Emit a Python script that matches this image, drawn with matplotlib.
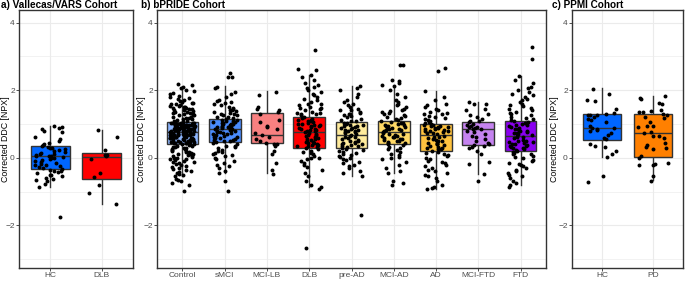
import numpy as np
import matplotlib
matplotlib.use('Agg')
import matplotlib.pyplot as plt

plt.rcParams['font.family'] = ['Liberation Sans', 'DejaVu Sans']

# ---- panel a) Vallecas/VARS ----
a_groups = ['HC', 'DLB']
a_colors = ['#0066FF', '#FF0000']
a_med = [0.05, 0.03]
a_q1 = [-0.34, -0.62]
a_q3 = [0.35, 0.15]
a_lo = [-0.86, -1.38]
a_hi = [0.93, 0.82]
a_hc = [0.93, 0.9, 0.88, 0.86, 0.8, 0.75, 0.62, 0.55, 0.5, 0.45, 0.4, 0.38, 0.35, 0.33,
        0.3, 0.28, 0.25, 0.22, 0.2, 0.18, 0.15, 0.12, 0.1, 0.08, 0.06, 0.05, 0.04, 0.02,
        0.0, -0.02, -0.05, -0.08, -0.1, -0.12, -0.15, -0.18, -0.2, -0.22, -0.25, -0.28,
        -0.3, -0.33, -0.35, -0.38, -0.4, -0.42, -0.45, -0.5, -0.52, -0.55, -0.6, -0.62,
        -0.65, -0.7, -0.78, -0.85, -1.75]
a_dlb = [0.82, 0.62, 0.22, 0.08, 0.05, 0.08, -0.05, -0.45, -0.58, -0.82, -1.03, -1.38]

# ---- panel b) bPRIDE ----
b_groups = ['Control', 'sMCI', 'MCI-LB', 'DLB', 'pre-AD', 'MCI-AD', 'AD', 'MCI-FTD', 'FTD']
b_colors = ['#8DB6FF', '#4A8CFF', '#F88080', '#FF0000', '#FFEB9C', '#FFD966', '#FFC33F',
            '#C583F0', '#8A00F0']
b_med = [0.75, 0.84, 0.68, 0.77, 0.68, 0.75, 0.68, 0.84, 0.63]
b_q1 = [0.41, 0.46, 0.43, 0.30, 0.29, 0.40, 0.20, 0.37, 0.20]
b_q3 = [1.05, 1.15, 1.32, 1.20, 1.06, 1.10, 0.99, 1.06, 1.10]
b_lo = [-0.55, -0.46, -0.46, -0.86, -0.54, -0.46, -0.93, -0.48, -0.81]
b_hi = [2.10, 2.12, 1.98, 2.46, 2.12, 2.12, 1.98, 1.65, 2.42]

control = [1.07, 1.1, 1.12, 1.15, 1.18, 1.2, 1.22, 1.25, 1.28, 1.3, 1.32, 1.35, 1.38, 1.4,
           1.42, 1.45, 1.48, 1.5, 1.52, 1.55, 1.58, 1.6, 1.63, 1.66, 1.7, 1.73, 1.76, 1.8,
           1.84, 1.88, 1.92, 1.96, 2.0, 2.05, 2.1, 2.15, 2.17, 1.5, 1.35, 1.25, 1.14, 1.44,
           1.62, 1.09, 1.27, 1.53, 1.19, 1.31, 1.47, 1.68,
           0.76, 0.77, 0.78, 0.79, 0.8, 0.81, 0.82, 0.83, 0.84, 0.85, 0.86, 0.87, 0.88, 0.89,
           0.9, 0.91, 0.92, 0.93, 0.94, 0.95, 0.96, 0.97, 0.98, 0.99, 1.0, 1.01, 1.02, 1.03,
           1.04, 1.05, 0.78, 0.82, 0.86, 0.9, 0.94, 0.98, 1.02, 0.8, 0.88, 0.96, 0.79, 0.91,
           0.99, 0.84, 1.03, 0.93, 0.87, 0.76, 0.97, 1.01,
           0.41, 0.42, 0.43, 0.44, 0.45, 0.46, 0.47, 0.48, 0.49, 0.5, 0.51, 0.52, 0.53, 0.54,
           0.55, 0.56, 0.57, 0.58, 0.59, 0.6, 0.61, 0.62, 0.63, 0.64, 0.65, 0.66, 0.67, 0.68,
           0.69, 0.7, 0.71, 0.72, 0.73, 0.74, 0.44, 0.52, 0.6, 0.68, 0.47, 0.57, 0.64, 0.71,
           0.5, 0.55, 0.62, 0.42, 0.66, 0.58, 0.49, 0.73,
           0.38, 0.35, 0.32, 0.3, 0.28, 0.25, 0.22, 0.2, 0.18, 0.15, 0.12, 0.1, 0.08, 0.05,
           0.02, 0.0, -0.03, -0.05, -0.08, -0.1, -0.13, -0.15, -0.18, -0.2, -0.23, -0.26,
           -0.3, -0.33, -0.36, -0.4, -0.43, -0.47, -0.5, -0.55, -0.62, -0.65, -0.7, -0.75,
           -0.8, -0.98, 0.36, 0.27, 0.16, 0.06, -0.12, 0.33, 0.21, 0.11, -0.02, -0.45]
smci = [1.17, 1.2, 1.22, 1.25, 1.28, 1.3, 1.33, 1.36, 1.4, 1.42, 1.45, 1.5, 1.55, 1.6, 1.62,
        1.65, 1.68, 1.72, 1.8, 1.88, 1.95, 2.05, 2.1, 2.4, 2.38, 2.5, 1.26, 1.38, 1.47,
        0.85, 0.87, 0.9, 0.92, 0.94, 0.96, 0.98, 1.0, 1.02, 1.04, 1.06, 1.08, 1.1, 1.12,
        1.14, 0.88, 0.95, 1.01, 1.07, 0.91, 0.86, 0.99, 1.11,
        0.47, 0.5, 0.52, 0.55, 0.58, 0.6, 0.62, 0.65, 0.67, 0.7, 0.72, 0.74, 0.76, 0.78,
        0.8, 0.82, 0.53, 0.63, 0.69, 0.75, 0.57, 0.81, 0.49,
        0.44, 0.4, 0.36, 0.32, 0.28, 0.24, 0.2, 0.15, 0.1, 0.05, 0.0, -0.05, -0.1, -0.15,
        -0.2, -0.25, -0.3, -0.38, -0.45, -0.68, -0.98, 0.34, 0.18, 0.07]
mcilb = [1.95, 1.85, 1.5, 1.45, 1.4, 1.35, 1.3, 1.12, 1.05, 0.95, 0.9, 0.85, 0.72, 0.68,
         0.62, 0.55, 0.5, 0.45, 0.42, 0.4, 0.35, 0.2, 0.1, -0.15, -0.35, -0.48]
dlb = [1.22, 1.25, 1.28, 1.3, 1.33, 1.36, 1.4, 1.43, 1.46, 1.5, 1.55, 1.6, 1.65, 1.7, 1.75,
       1.8, 1.85, 1.9, 1.95, 2.0, 2.05, 2.1, 2.15, 2.2, 2.3, 2.38, 2.45, 2.6, 2.62, 3.19,
       1.32, 1.48, 1.58,
       0.78, 0.8, 0.83, 0.86, 0.89, 0.92, 0.95, 0.98, 1.01, 1.04, 1.07, 1.1, 1.13, 1.16,
       1.19, 0.85, 0.93, 1.0, 1.08, 0.82, 0.97, 1.12,
       0.31, 0.34, 0.37, 0.4, 0.43, 0.46, 0.5, 0.53, 0.56, 0.6, 0.63, 0.66, 0.7, 0.73,
       0.76, 0.38, 0.48, 0.58, 0.68, 0.45, 0.55, 0.35,
       0.28, 0.25, 0.2, 0.15, 0.1, 0.05, 0.0, -0.05, -0.1, -0.15, -0.2, -0.28, -0.35,
       -0.45, -0.55, -0.7, -0.8, -0.86, -0.92, -2.68, 0.18, -0.02]
preAD = [1.08, 1.1, 1.13, 1.16, 1.2, 1.23, 1.26, 1.3, 1.33, 1.36, 1.4, 1.45, 1.5, 1.55,
         1.6, 1.65, 1.7, 1.8, 1.9, 2.0, 2.05, 2.12, 1.28, 1.42,
         0.7, 0.72, 0.75, 0.78, 0.8, 0.83, 0.86, 0.89, 0.92, 0.95, 0.98, 1.01, 1.04, 0.76,
         0.88, 0.97, 0.81, 0.93, 1.03,
         0.3, 0.33, 0.36, 0.39, 0.42, 0.45, 0.48, 0.51, 0.54, 0.57, 0.6, 0.63, 0.66, 0.4,
         0.5, 0.6, 0.35, 0.55, 0.44,
         0.27, 0.24, 0.2, 0.16, 0.12, 0.08, 0.04, 0.0, -0.04, -0.08, -0.12, -0.16, -0.2,
         -0.25, -0.3, -0.38, -0.45, -0.54, -1.7, 0.14, 0.02]
mciAD = [1.12, 1.15, 1.18, 1.2, 1.23, 1.26, 1.3, 1.33, 1.36, 1.4, 1.45, 1.5, 1.55, 1.6,
         1.65, 1.7, 1.8, 1.9, 2.0, 2.12, 2.15, 2.2, 2.28, 2.3, 2.73, 2.75, 1.38,
         0.77, 0.8, 0.83, 0.86, 0.89, 0.92, 0.95, 0.98, 1.01, 1.04, 1.07, 1.09, 0.82, 0.9,
         0.97, 1.03, 0.85, 0.94,
         0.41, 0.44, 0.47, 0.5, 0.53, 0.56, 0.59, 0.62, 0.65, 0.68, 0.71, 0.74, 0.45, 0.55,
         0.63, 0.7, 0.5, 0.6,
         0.37, 0.33, 0.28, 0.22, 0.18, 0.12, 0.08, 0.03, 0.0, -0.05, -0.12, -0.2, -0.3,
         -0.38, -0.45, -0.7, -0.75, -0.82, 0.25]
ad = [1.0, 1.03, 1.06, 1.1, 1.13, 1.16, 1.2, 1.24, 1.28, 1.32, 1.36, 1.4, 1.45, 1.5, 1.55,
      1.6, 1.7, 1.8, 1.98, 2.56, 2.64, 1.18, 1.3,
      0.7, 0.72, 0.75, 0.78, 0.8, 0.83, 0.86, 0.88, 0.9, 0.93, 0.96, 0.98, 0.74, 0.84,
      0.92, 0.79, 0.87, 0.95,
      0.21, 0.25, 0.29, 0.33, 0.37, 0.41, 0.45, 0.49, 0.53, 0.57, 0.61, 0.65, 0.3, 0.4,
      0.5, 0.6, 0.35, 0.55, 0.45, 0.27,
      0.18, 0.14, 0.1, 0.05, 0.0, -0.05, -0.1, -0.15, -0.2, -0.25, -0.3, -0.35, -0.4,
      -0.45, -0.5, -0.55, -0.6, -0.7, -0.8, -0.85, -0.93, -0.88, 0.08, -0.12]
mciFTD = [1.65, 1.6, 1.58, 1.45, 1.42, 1.3, 1.25, 1.2, 1.15, 1.1, 1.08, 1.05, 1.0, 0.98,
          0.95, 0.92, 0.9, 0.88, 0.85, 0.84, 0.8, 0.75, 0.7, 0.65, 0.6, 0.55, 0.5, 0.45,
          0.4, 0.37, 0.35, 0.32, 0.28, 0.2, 0.1, -0.12, -0.18, -0.48, -0.68]
ftd = [1.12, 1.15, 1.18, 1.22, 1.25, 1.28, 1.32, 1.36, 1.4, 1.44, 1.48, 1.52, 1.56, 1.6,
       1.65, 1.7, 1.75, 1.8, 1.85, 1.9, 1.95, 2.0, 2.05, 2.1, 2.2, 2.3, 2.42, 2.92, 3.27,
       0.65, 0.68, 0.71, 0.74, 0.77, 0.8, 0.83, 0.86, 0.89, 0.92, 0.95, 0.98, 1.01, 1.04,
       1.07, 1.09, 0.72, 0.85, 0.96, 0.78,
       0.21, 0.24, 0.27, 0.3, 0.33, 0.36, 0.39, 0.42, 0.45, 0.48, 0.51, 0.54, 0.57, 0.6,
       0.62, 0.28, 0.4, 0.5, 0.35, 0.46,
       0.18, 0.14, 0.1, 0.06, 0.02, -0.02, -0.06, -0.1, -0.15, -0.2, -0.25, -0.3, -0.35,
       -0.4, -0.45, -0.5, -0.55, -0.6, -0.68, -0.75, -0.81, -0.85, 0.12, -0.18]

# ---- panel c) PPMI ----
c_groups = ['HC', 'PD']
c_colors = ['#0066FF', '#FF8000']
c_med = [0.89, 0.72]
c_q1 = [0.54, 0.01]
c_q3 = [1.29, 1.28]
c_lo = [0.03, -0.66]
c_hi = [2.05, 1.83]
c_hc = [2.03, 1.9, 1.72, 1.68, 1.45, 1.33, 1.3, 1.27, 1.26, 1.25, 1.2, 1.15, 1.12, 1.05,
        0.95, 0.88, 0.87, 0.85, 0.83, 0.8, 0.72, 0.68, 0.57, 0.55, 0.4, 0.35, 0.32, 0.2,
        0.1, 0.03, -0.55, -0.72]
c_pd = [1.83, 1.78, 1.75, 1.62, 1.58, 1.4, 1.38, 1.35, 1.35, 1.3, 1.25, 1.2, 1.18, 1.05,
        0.95, 0.93, 0.9, 0.75, 0.72, 0.65, 0.63, 0.58, 0.45, 0.38, 0.33, 0.3, 0.26, 0.05,
        -0.02, -0.15, -0.18, -0.2, -0.22, -0.55, -0.68]

W, H = 685, 281
fig = plt.figure(figsize=(W / 100, H / 100), dpi=100)
rng = np.random.default_rng(7)
ylim = (-3.26, 4.37)


def make_ax(left, right, top=10, bottom=268):
    return fig.add_axes([left / W, 1 - bottom / H, (right - left) / W, (bottom - top) / H])


def panel(ax, groups, colors, med, q1, q3, lo, hi, points, ylab_x):
    pos = np.arange(1, len(groups) + 1)
    stats = [dict(med=m, q1=a, q3=b, whislo=l, whishi=h, label=g)
             for m, a, b, l, h, g in zip(med, q1, q3, lo, hi, groups)]
    bp = ax.bxp(stats, positions=pos, widths=0.75, showfliers=False, showcaps=False,
                patch_artist=True,
                boxprops=dict(edgecolor='#333333', linewidth=1.0),
                whiskerprops=dict(color='#333333', linewidth=1.0),
                medianprops=dict(color='#333333', linewidth=1.0))
    for patch, c in zip(bp['boxes'], colors):
        patch.set_facecolor(c)
        patch.set_zorder(2)
    for w in bp['whiskers']:
        w.set_zorder(1.9)
    for m in bp['medians']:
        m.set_zorder(2.1)
    for p, vals in zip(pos, points):
        vals = np.asarray(vals)
        xs = p + rng.uniform(-0.3, 0.3, len(vals))
        ax.scatter(xs, vals, s=8, color='black', linewidths=0, zorder=3)
    ax.set_xlim(0.4, len(groups) + 0.6)
    ax.set_ylim(*ylim)
    ax.set_xticks(pos)
    ax.set_xticklabels(groups)
    ax.set_yticks([-2, 0, 2, 4])
    ax.set_yticklabels(['\u22122', '0', '2', '4'])
    ax.set_yticks([-3, -1, 1, 3], minor=True)
    ax.grid(True, which='major', color='#EBEBEB', linewidth=0.8, zorder=0)
    ax.grid(True, which='minor', axis='y', color='#EBEBEB', linewidth=0.45, zorder=0)
    ax.set_axisbelow(True)
    ax.tick_params(axis='both', which='major', labelsize=6, labelcolor='#4D4D4D',
                   color='#333333', length=2, width=0.6, pad=1)
    ax.tick_params(axis='y', which='minor', length=0)
    for s in ax.spines.values():
        s.set_color('#333333')
        s.set_linewidth(1.0)
    ax.set_ylabel('Corrected DDC [NPX]', fontsize=6.3, color='black')
    ax.yaxis.set_label_coords(ylab_x, 0.5)


ax_a = make_ax(19, 133)
panel(ax_a, a_groups, a_colors, a_med, a_q1, a_q3, a_lo, a_hi, [a_hc, a_dlb], -0.079)

ax_b = make_ax(157, 546)
panel(ax_b, b_groups, b_colors, b_med, b_q1, b_q3, b_lo, b_hi,
      [control, smci, mcilb, dlb, preAD, mciAD, ad, mciFTD, ftd], -0.027)

ax_c = make_ax(572, 683)
panel(ax_c, c_groups, c_colors, c_med, c_q1, c_q3, c_lo, c_hi, [c_hc, c_pd], -0.113)

fig.text(1 / W, 1 - 4.5 / H, 'a) Vallecas/VARS Cohort', fontsize=7.2, fontweight='bold',
         ha='left', va='center')
fig.text(141 / W, 1 - 4.5 / H, 'b) bPRIDE Cohort', fontsize=7.2, fontweight='bold',
         ha='left', va='center')
fig.text(552 / W, 1 - 4.5 / H, 'c) PPMI Cohort', fontsize=7.2, fontweight='bold',
         ha='left', va='center')

fig.savefig('out.png', dpi=100)
